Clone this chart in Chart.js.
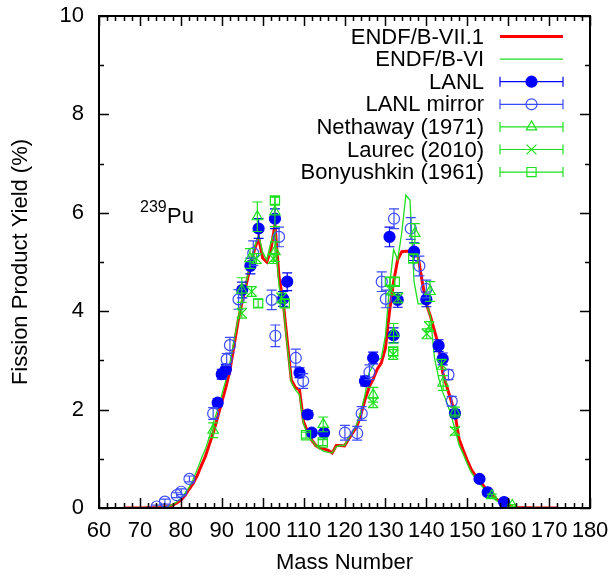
<!DOCTYPE html>
<html>
<head>
<meta charset="utf-8">
<script src="https://cdn.jsdelivr.net/npm/chart.js@4.4.0/dist/chart.umd.min.js"></script>
<style>
  html, body { margin: 0; padding: 0; background: #ffffff; }
  #wrap { width: 614px; height: 576px; }
</style>
</head>
<body>
<div id="wrap"><canvas id="chart" width="614" height="576"></canvas></div>
<script>
// ---- Evaluated chain yields (%), one value per mass number starting at *Start ----
const endf71Start = 66;
const endf71Yield = [
  0.001, 0.001, 0.001, 0.001, 0.002, 0.002, 0.003, 0.004, 0.006, 0.01,   // 66-75
  0.02, 0.03, 0.06, 0.10, 0.16, 0.25, 0.38, 0.50, 0.66, 0.86,            // 76-85
  1.05, 1.30, 1.55, 1.85, 2.15, 2.45, 2.80, 3.30, 3.80, 4.20,            // 86-95
  4.55, 4.92, 5.25, 5.50, 5.08, 5.00, 5.25, 5.75, 4.70, 4.20,            // 96-105
  3.40, 2.60, 2.45, 2.40, 1.75, 1.55, 1.38, 1.27, 1.22, 1.20,            // 106-115
  1.17, 1.12, 1.27, 1.27, 1.26, 1.40, 1.53, 1.65, 1.90, 2.20,            // 116-125
  2.45, 2.62, 2.82, 2.95, 3.25, 4.00, 4.60, 5.05, 5.21, 5.22,            // 126-135
  5.22, 5.22, 5.10, 4.60, 4.15, 3.90, 3.60, 3.30, 2.75, 2.47,            // 136-145
  2.20, 1.92, 1.40, 1.18, 0.97, 0.78, 0.66, 0.57, 0.45, 0.34,            // 146-155
  0.26, 0.19, 0.13, 0.08, 0.04, 0.02, 0.01, 0.006, 0.004, 0.003,         // 156-165
  0.002, 0.002, 0.001, 0.001, 0.001, 0.001, 0.001                        // 166-172
];

const endf6Start = 76;
const endf6Yield = [
  0.02, 0.04, 0.07, 0.12, 0.20, 0.30, 0.42, 0.58, 0.78, 1.00,            // 76-85
  1.20, 1.45, 1.75, 2.00, 2.30, 2.60, 2.95, 3.40, 3.85, 4.25,            // 86-95
  4.60, 4.95, 5.30, 5.55, 5.20, 5.04, 5.40, 5.62, 4.50, 4.15,            // 96-105
  3.30, 2.55, 2.40, 2.30, 1.70, 1.50, 1.38, 1.27, 1.20, 1.15,            // 106-115
  1.13, 1.12, 1.25, 1.27, 1.27, 1.42, 1.55, 1.70, 1.95, 2.30,            // 116-125
  2.75, 2.90, 3.00, 3.05, 3.50, 4.50, 5.25, 5.05, 5.60, 6.36,            // 126-135
  6.26, 4.60, 4.15, 4.15, 4.15, 3.90, 3.05, 2.65, 2.35, 2.15,            // 136-145
  1.90, 1.60, 1.28, 1.10, 0.90, 0.72, 0.60, 0.50, 0.40, 0.30,            // 146-155
  0.22, 0.16, 0.10, 0.06, 0.03, 0.01                                     // 156-161
];

// ---- Measurements: mass number, yield (%), uncertainty (%) ----
const lanlMass  = [89, 90, 91, 95, 97, 99, 103, 105, 106, 109, 111, 112, 115, 125, 127, 131, 132, 133, 137, 140, 143, 144, 147, 153, 155, 159];
const lanlYield = [2.14, 2.72, 2.82, 4.43, 4.92, 5.68, 5.88, 4.25, 4.60, 2.75, 1.90, 1.53, 1.53, 2.58, 3.05, 5.51, 3.51, 4.23, 5.21, 4.24, 3.30, 3.03, 1.92, 0.59, 0.32, 0.12];
const lanlErr   = [0.08, 0.10, 0.10, 0.16, 0.16, 0.20, 0.20, 0.15, 0.18, 0.10, 0.08, 0.06, 0.06, 0.10, 0.12, 0.20, 0.15, 0.15, 0.18, 0.15, 0.12, 0.12, 0.08, 0.03, 0.02, 0.01];

const mirrorMass  = [74.1, 76.1, 79.0, 80.1, 82.1, 87.9, 91.2, 92.0, 94.1, 97.7, 102.2, 103.1, 104.0, 108.1, 109.9, 120.1, 123.1, 124.2, 126.1, 129.1, 130.1, 132.1, 136.2, 138.3, 140.0, 145.4, 146.2];
const mirrorYield = [0.03, 0.13, 0.26, 0.33, 0.59, 1.92, 3.02, 3.31, 4.24, 5.18, 4.23, 3.50, 5.51, 3.05, 2.58, 1.53, 1.52, 1.92, 2.76, 4.60, 4.25, 5.88, 5.68, 4.92, 4.45, 2.71, 2.17];
const mirrorErr   = [0.03, 0.05, 0.05, 0.06, 0.06, 0.12, 0.12, 0.16, 0.20, 0.25, 0.20, 0.22, 0.20, 0.18, 0.15, 0.15, 0.14, 0.14, 0.15, 0.20, 0.18, 0.20, 0.22, 0.20, 0.18, 0.10, 0.10];

const nethawayMass  = [87.9, 94.9, 96.9, 98.7, 103.0, 103.0, 114.8, 127.0, 132.0, 137.2, 140.9, 144.1, 147.0, 156.0, 161.0];
const nethawayYield = [1.58, 4.43, 5.07, 5.92, 6.02, 5.21, 1.70, 2.30, 3.55, 5.58, 4.40, 2.54, 1.95, 0.25, 0.05];
const nethawayErr   = [0.15, 0.25, 0.20, 0.30, 0.30, 0.20, 0.15, 0.15, 0.20, 0.20, 0.20, 0.15, 0.10, 0.03, 0.02];

const laurecMass  = [94.9, 97.3, 98.5, 102.6, 104.6, 127.0, 131.3, 131.9, 133.1, 140.1, 140.7, 143.7, 147.0];
const laurecYield = [3.96, 4.40, 5.07, 5.07, 4.27, 2.14, 4.43, 3.12, 4.27, 3.54, 3.69, 2.92, 1.56];
const laurecErr   = [0.10, 0.10, 0.10, 0.10, 0.10, 0.10, 0.10, 0.10, 0.10, 0.10, 0.10, 0.10, 0.08];

const bonyushkinMass  = [98.9, 103.0, 105.4, 110.6, 114.7, 131.1, 132.3, 131.9, 136.8];
const bonyushkinYield = [4.16, 6.25, 4.16, 1.48, 1.33, 4.60, 4.60, 3.18, 5.07];
const bonyushkinErr   = [0.08, 0.08, 0.08, 0.06, 0.06, 0.08, 0.08, 0.08, 0.08];

const xTickStep = 10;
const yTickStep = 2;

// ---- styling ----
const FONT = "'Liberation Sans', Arial, Helvetica, sans-serif";
const FONT_SIZE = 22;
const RED = '#ff0000';
const GREEN = '#1ee01e';
const BLUE = '#0000ff';
const BLUE2 = '#3a4bff';

function curve(start, values) {
  return values.map((v, i) => ({ x: start + i, y: v }));
}
function points(mass, yields) {
  return mass.map((m, i) => ({ x: m, y: yields[i] }));
}

// vertical error bars with caps, drawn just below each marker set
const errorBars = {
  id: 'errorBars',
  beforeDatasetDraw(chart, args) {
    const ds = chart.data.datasets[args.index];
    if (!ds.errors) return;
    const { ctx, chartArea: a } = chart;
    const xs = chart.scales.x, ys = chart.scales.y;
    ctx.save();
    ctx.beginPath();
    ctx.rect(a.left, a.top, a.right - a.left, a.bottom - a.top);
    ctx.clip();
    ctx.strokeStyle = ds.borderColor;
    ctx.lineWidth = 1.2;
    ds.data.forEach((p, i) => {
      const e = ds.errors[i];
      const px = xs.getPixelForValue(p.x);
      const lo = ys.getPixelForValue(p.y - e);
      const hi = ys.getPixelForValue(p.y + e);
      ctx.beginPath();
      ctx.moveTo(px, lo); ctx.lineTo(px, hi);
      ctx.moveTo(px - 5, lo); ctx.lineTo(px + 5, lo);
      ctx.moveTo(px - 5, hi); ctx.lineTo(px + 5, hi);
      ctx.stroke();
    });
    ctx.restore();
  }
};

// closed frame with inward ticks on all four sides
const frame = {
  id: 'frame',
  afterDatasetsDraw(chart) {
    const { ctx, chartArea: a } = chart;
    const xs = chart.scales.x, ys = chart.scales.y;
    ctx.save();
    ctx.strokeStyle = '#000';
    ctx.lineWidth = 1.5;
    ctx.beginPath();
    for (let v = xs.min; v <= xs.max + 1e-9; v += xTickStep / 5) {
      const px = Math.round(xs.getPixelForValue(v)) + 0.5;
      const major = Math.abs(v / xTickStep - Math.round(v / xTickStep)) < 1e-6;
      const len = major ? 10 : 5;
      ctx.moveTo(px, a.bottom); ctx.lineTo(px, a.bottom - len);
      ctx.moveTo(px, a.top); ctx.lineTo(px, a.top + len);
    }
    for (let v = ys.min; v <= ys.max + 1e-9; v += yTickStep / 2) {
      const py = Math.round(ys.getPixelForValue(v)) + 0.5;
      const major = Math.abs(v / yTickStep - Math.round(v / yTickStep)) < 1e-6;
      const len = major ? 10 : 5;
      ctx.moveTo(a.left, py); ctx.lineTo(a.left + len, py);
      ctx.moveTo(a.right, py); ctx.lineTo(a.right - len, py);
    }
    ctx.stroke();
    ctx.lineWidth = 2;
    ctx.strokeRect(a.left, a.top, a.right - a.left, a.bottom - a.top);
    ctx.restore();
  }
};

// isotope label and key box
const decorations = {
  id: 'decorations',
  afterDraw(chart) {
    const { ctx } = chart;
    ctx.save();
    ctx.fillStyle = '#000';
    ctx.textBaseline = 'alphabetic';
    ctx.textAlign = 'left';
    ctx.font = '16px ' + FONT;
    ctx.fillText('239', 140, 212);
    ctx.font = FONT_SIZE + 'px ' + FONT;
    ctx.fillText('Pu', 167, 223);

    const rows = chart.data.datasets
      .filter(d => d.keyRow !== undefined)
      .sort((p, q) => p.keyRow - q.keyRow);
    const textRight = 484, lineL = 500, lineR = 563, mid = 531.5;
    rows.forEach((d, i) => {
      const y = 36.5 + i * 22.6;
      ctx.fillStyle = '#000';
      ctx.font = FONT_SIZE + 'px ' + FONT;
      ctx.textAlign = 'right';
      ctx.textBaseline = 'middle';
      ctx.fillText(d.label, textRight, y + 1);
      ctx.strokeStyle = d.borderColor;
      if (!d.errors) {
        ctx.lineWidth = d.borderWidth;
        ctx.beginPath(); ctx.moveTo(lineL, y); ctx.lineTo(lineR, y); ctx.stroke();
      } else {
        ctx.lineWidth = 1.2;
        ctx.beginPath();
        ctx.moveTo(lineL, y); ctx.lineTo(lineR, y);
        ctx.moveTo(lineL, y - 5); ctx.lineTo(lineL, y + 5);
        ctx.moveTo(lineR, y - 5); ctx.lineTo(lineR, y + 5);
        ctx.stroke();
        ctx.fillStyle = d.backgroundColor;
        ctx.strokeStyle = d.borderColor;
        ctx.lineWidth = d.borderWidth;
        Chart.helpers.drawPoint(ctx, {
          pointStyle: d.pointStyle, radius: d.pointRadius, rotation: 0,
          borderWidth: d.borderWidth
        }, mid, y);
      }
    });
    ctx.restore();
  }
};

const markerSet = (label, mass, yields, errs, color, style, radius, filled, row, order) => ({
  type: 'scatter',
  label,
  data: points(mass, yields),
  errors: errs,
  borderColor: color,
  backgroundColor: filled ? color : 'rgba(0,0,0,0)',
  borderWidth: 1.2,
  pointStyle: style,
  pointRadius: radius,
  pointHoverRadius: radius,
  showLine: false,
  keyRow: row,
  order
});

const chart = new Chart(document.getElementById('chart'), {
  type: 'scatter',
  data: {
    datasets: [
      {
        type: 'line', label: 'ENDF/B-VII.1', data: curve(endf71Start, endf71Yield),
        borderColor: RED, backgroundColor: RED, borderWidth: 3, pointRadius: 0,
        tension: 0, fill: false, keyRow: 0, order: 7
      },
      {
        type: 'line', label: 'ENDF/B-VI', data: curve(endf6Start, endf6Yield),
        borderColor: GREEN, backgroundColor: GREEN, borderWidth: 1.3, pointRadius: 0,
        tension: 0, fill: false, keyRow: 1, order: 6
      },
      markerSet('LANL', lanlMass, lanlYield, lanlErr, BLUE, 'circle', 5.5, true, 2, 5),
      markerSet('LANL mirror', mirrorMass, mirrorYield, mirrorErr, BLUE2, 'circle', 5.5, false, 3, 4),
      markerSet('Nethaway (1971)', nethawayMass, nethawayYield, nethawayErr, GREEN, 'triangle', 6, false, 4, 3),
      markerSet('Laurec (2010)', laurecMass, laurecYield, laurecErr, GREEN, 'crossRot', 7, false, 5, 2),
      markerSet('Bonyushkin (1961)', bonyushkinMass, bonyushkinYield, bonyushkinErr, GREEN, 'rect', 6.5, false, 6, 1)
    ]
  },
  options: {
    responsive: false,
    animation: false,
    devicePixelRatio: 1,
    layout: { padding: { left: 0, right: 24, top: 16, bottom: 0 } },
    plugins: { legend: { display: false }, tooltip: { enabled: false } },
    scales: {
      x: {
        type: 'linear', min: 60, max: 180,
        ticks: { stepSize: xTickStep, color: '#000', font: { family: FONT, size: FONT_SIZE }, padding: 10, maxRotation: 0, autoSkip: false },
        grid: { display: false, drawTicks: false },
        border: { display: false },
        title: { display: true, text: 'Mass Number', color: '#000', font: { family: FONT, size: FONT_SIZE }, padding: { top: 0, bottom: 0 } },
        afterFit(scale) {
          scale.height = 68;
          scale.paddingLeft = 0;
          scale.paddingRight = 0;
        }
      },
      y: {
        type: 'linear', min: 0, max: 10,
        ticks: { stepSize: yTickStep, color: '#000', font: { family: FONT, size: FONT_SIZE }, padding: 15 },
        grid: { display: false, drawTicks: false },
        border: { display: false },
        title: { display: true, text: 'Fission Product Yield (%)', color: '#000', font: { family: FONT, size: FONT_SIZE }, padding: { top: 8, bottom: 0 } },
        afterFit(scale) {
          scale.width = 99;
          scale.paddingTop = 0;
          scale.paddingBottom = 0;
        }
      }
    }
  },
  plugins: [errorBars, frame, decorations]
});
</script>
</body>
</html>
